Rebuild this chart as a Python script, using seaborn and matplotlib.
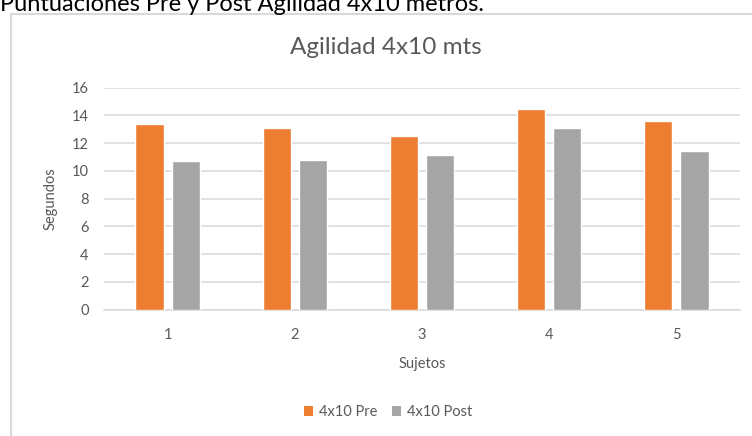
import matplotlib
matplotlib.use("Agg")
import matplotlib.pyplot as plt
from matplotlib.lines import Line2D
from matplotlib.patches import Patch
import seaborn as sns
import pandas as pd

# Agility test results (seconds) per subject, before and after the program
sujetos = ["1", "2", "3", "4", "5"]
pre = [13.35, 13.05, 12.5, 14.45, 13.6]
post = [10.7, 10.8, 11.1, 13.05, 11.45]
series = ["4x10 Pre", "4x10 Post"]
colores = ["#ED7D31", "#A5A5A5"]
yticks = [0, 2, 4, 6, 8, 10, 12, 14, 16]

df = pd.DataFrame({
    "Sujetos": sujetos * 2,
    "Segundos": pre + post,
    "Serie": [series[0]] * len(sujetos) + [series[1]] * len(sujetos),
})

sns.set_theme(style="white")
plt.rcParams["font.family"] = ["Lato", "DejaVu Sans"]

W, H = 752, 436
fig = plt.figure(figsize=(W / 100, H / 100), dpi=100)
ax = fig.add_axes([104 / W, (H - 309.5) / H, 636 / W, 222 / H])

sns.barplot(data=df, x="Sujetos", y="Segundos", hue="Serie", order=sujetos,
            hue_order=series, palette=colores, width=0.57, gap=0.22,
            saturation=1, legend=False, ax=ax, zorder=3)

grey_txt = "#595959"
fs = 10.5
ax.set_ylim(0, 16)
ax.set_yticks(yticks)
ax.set_yticklabels([str(t) for t in yticks])
ax.grid(axis="y", color="#D9D9D9", linewidth=1.1, zorder=0)
ax.set_axisbelow(True)
for s in ["top", "right", "left"]:
    ax.spines[s].set_visible(False)
ax.spines["bottom"].set_color("#D9D9D9")
ax.spines["bottom"].set_linewidth(1.1)
ax.tick_params(axis="both", length=0, labelsize=fs, colors=grey_txt)
ax.tick_params(axis="x", pad=13)
ax.tick_params(axis="y", pad=11)
ax.set_xlabel("Sujetos", fontsize=fs, color=grey_txt, labelpad=11)
ax.set_ylabel("Segundos", fontsize=fs, color=grey_txt, labelpad=10)

fig.text(386 / W, 1 - 47 / H, "Agilidad 4x10 mts", fontsize=17.5,
         color=grey_txt, ha="center", va="center")

handles = [Patch(facecolor=c, edgecolor="none") for c in colores]
fig.legend(handles, series, loc="center", bbox_to_anchor=(388 / W, 1 - 412 / H),
           ncol=2, frameon=False, fontsize=fs, labelcolor=grey_txt,
           handlelength=0.65, handleheight=0.65, handletextpad=0.4,
           columnspacing=1.0)

# Chart frame and the document caption above it
frame_col = "#D9D9D9"
fig.add_artist(Line2D([11 / W, 11 / W], [0, 1 - 14 / H], transform=fig.transFigure,
                      color=frame_col, linewidth=1.5))
fig.add_artist(Line2D([11 / W, 1], [1 - 14 / H, 1 - 14 / H], transform=fig.transFigure,
                      color=frame_col, linewidth=1.5))
fig.text(0.0, 1 - 11 / H, "Puntuaciones Pre y Post Agilidad 4x10 metros.",
         fontsize=17, color="#000000", va="baseline", ha="left")

fig.savefig("out.png", dpi=100)
